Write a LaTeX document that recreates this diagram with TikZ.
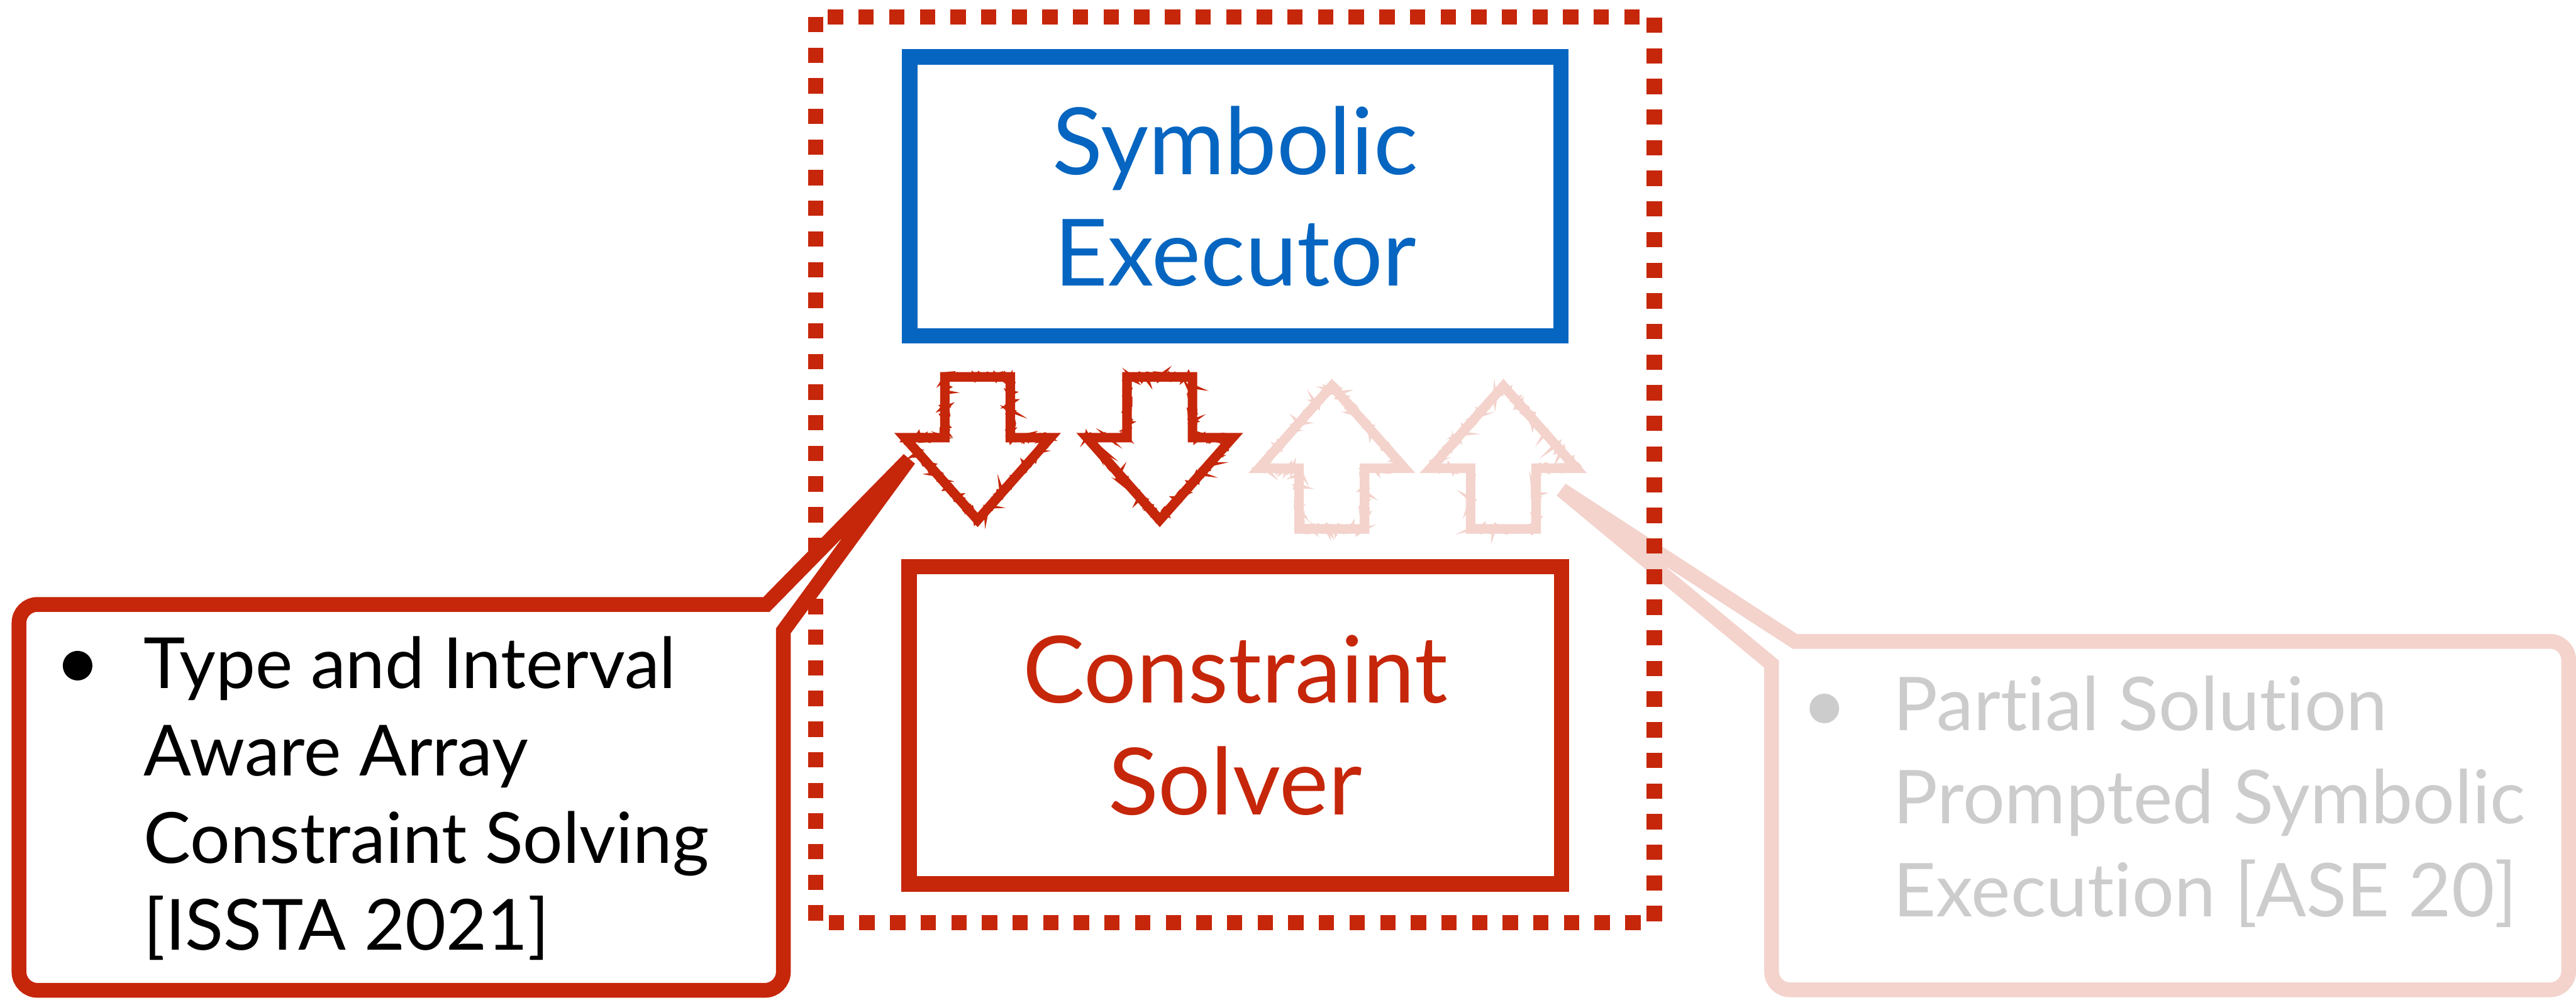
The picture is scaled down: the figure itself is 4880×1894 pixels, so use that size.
\documentclass[tikz,border=0pt]{standalone}
\usepackage{fontspec}
\setmainfont{Lato}[Ligatures=NoCommon]
\usetikzlibrary{decorations.pathmorphing}

\definecolor{execblue}{RGB}{5,101,192}
\definecolor{solvered}{RGB}{198,38,10}
\definecolor{fadedred}{RGB}{243,211,204}
\definecolor{fadedtext}{RGB}{204,204,204}

\tikzset{
  box/.style={line width=.29cm, align=center, font=\fontsize{50}{60}\selectfont},
  framedots/.style={draw=solvered, line width=.29cm, dash pattern=on .29cm off .29cm},
  callout/.style={line width=.28cm, fill=white},
  notetext/.style={align=left, inner sep=0pt, font=\fontsize{38}{47}\selectfont},
  bulletdot/.style={circle, inner sep=0pt, minimum size=.56cm},
  arrowline/.style={line width=.18cm, line join=miter},
  fuzz/.style={line width=.07cm, decorate,
    decoration={random steps, segment length=.05cm, amplitude=.07cm}},
  % hollow block arrow, drawn pointing down around its centre
  pics/fatarrow/.style={code={
    \draw[arrowline, draw=#1] (-62,-136) -- (62,-136) -- (62,-21) -- (138,-21)
      -- (0,135) -- (-138,-21) -- (-62,-21) -- cycle;
    \foreach \pass in {1,2}
      \draw[fuzz, draw=#1] (-62,-136) -- (62,-136) -- (62,-21) -- (138,-21)
        -- (0,135) -- (-138,-21) -- (-62,-21) -- cycle;
  }}
}

\begin{document}
\begin{tikzpicture}[x=.01cm, y=-.01cm]
  \pgfmathsetseed{7}
  \useasboundingbox (0,0) rectangle (4880,1894);

  % faded note on the right, kept under the frame
  \coordinate (ptrR) at (2958,928);
  \draw[callout, draw=fadedred] (4100,1215) -- (3400,1215) -- (ptrR) -- (3356,1258)
    [rounded corners=.35cm] -- (3356,1875) -- (4866,1875) -- (4866,1215) -- cycle;
  \node[bulletdot, fill=fadedtext] (dotR) at (3456,1342) {};
  \node[notetext, text=fadedtext, anchor=north west, font=\fontsize{40}{50}\selectfont]
    (noteR) at (3586,1280) {Partial Solution\\Prompted Symbolic\\Execution [ASE 20]};

  % dotted frame round the two parts
  \draw[framedots] (1545,32) rectangle (3134,1748);

  \node[box, draw=execblue, text=execblue, minimum width=12.33cm, minimum height=5.28cm]
    (exec) at (2340,372) {Symbolic\\Executor};
  \node[box, draw=solvered, text=solvered, minimum width=12.35cm, minimum height=6.01cm]
    (solver) at (2340,1374) {Constraint\\Solver};

  % queries down, answers up
  \pic (arrA) at (1852,850) {fatarrow=solvered};
  \pic (arrB) at (2197,850) {fatarrow=solvered};
  \pic[rotate=180] (arrC) at (2523,866) {fatarrow=fadedred};
  \pic[rotate=180] (arrD) at (2848,866) {fatarrow=fadedred};

  % note on the left, over the frame
  \coordinate (ptrL) at (1722,870);
  \draw[callout, draw=solvered] (700,1145) -- (1452,1145) -- (ptrL) -- (1484,1195)
    [rounded corners=.35cm] -- (1484,1876) -- (36,1876) -- (36,1145) -- cycle;
  \node[bulletdot, fill=black] (dotL) at (147,1261) {};
  \node[notetext, anchor=north west] (noteL) at (272,1205)
    {Type and Interval\\Aware Array\\Constraint Solving\\{[ISSTA 2021]}};
\end{tikzpicture}
\end{document}
